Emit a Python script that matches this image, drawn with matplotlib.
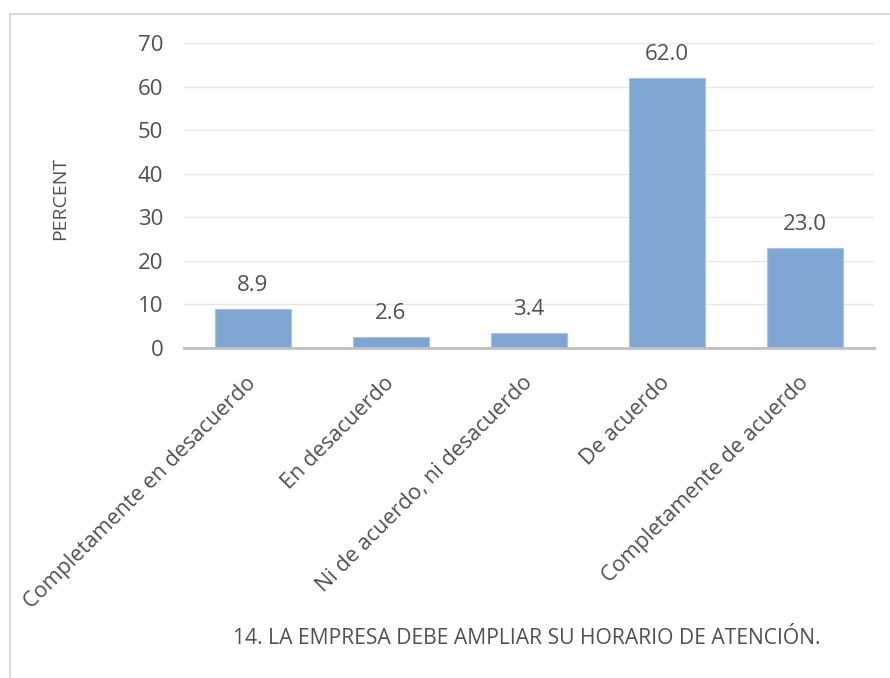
import matplotlib
matplotlib.use("Agg")
import matplotlib.pyplot as plt
from matplotlib.patches import Rectangle

# survey answers, percent of respondents
categories = ["Completamente en desacuerdo", "En desacuerdo",
              "Ni de acuerdo, ni desacuerdo", "De acuerdo",
              "Completamente de acuerdo"]
percent = [8.9, 2.6, 3.4, 62.0, 23.0]
yticks = [0, 10, 20, 30, 40, 50, 60, 70]
title = "14. LA EMPRESA DEBE AMPLIAR SU HORARIO DE ATENCIÓN."

plt.rcParams['font.family'] = ['Open Sans', 'DejaVu Sans']
txt = '#505050'

fig = plt.figure(figsize=(8.9, 6.78), dpi=100)
# light frame round the chart
fig.patches.append(Rectangle((10 / 890, -0.01), 0.99, 1 - 14 / 678 + 0.01,
                             transform=fig.transFigure, fill=False,
                             edgecolor='#D9D9D9', linewidth=1.5))

ax = fig.add_axes([184 / 890, 1 - 348 / 678, 690 / 890, 305 / 678])
x = range(len(categories))
bars = ax.bar(x, percent, width=0.55, color='#7FA6D2', edgecolor='#A9C4E3',
              linewidth=0.8, zorder=3)
for b, v in zip(bars, percent):
    ax.text(b.get_x() + b.get_width() / 2, v + 5.4, "%.1f" % v,
            ha='center', va='center', fontsize=16, color=txt)

ax.set_xlim(-0.5, len(categories) - 0.5)
ax.set_ylim(0, 70)
ax.set_yticks(yticks)
ax.set_yticklabels([str(t) for t in yticks], fontsize=16, color=txt)
ax.set_xticks(list(x))
ax.set_xticklabels(categories, rotation=45, ha='right', va='center',
                   rotation_mode='anchor', fontsize=15.6, color=txt)
ax.tick_params(axis='both', length=0)
ax.tick_params(axis='y', pad=15)
ax.tick_params(axis='x', pad=23)
ax.grid(axis='y', color='#E6E6E6', linewidth=1, zorder=0)
for s in ['top', 'right', 'left']:
    ax.spines[s].set_visible(False)
ax.spines['bottom'].set_color('#BFBFBF')
ax.spines['bottom'].set_linewidth(2)
ax.spines['bottom'].set_zorder(4)

fig.text(60 / 890, 1 - 198 / 678, "PERCENT", rotation=90, ha='center',
         va='center', fontsize=14, color=txt)
fig.text(527 / 890, 1 - 639 / 678, title, ha='center', va='center',
         fontsize=15.2, color=txt)

plt.savefig("out.png", dpi=100)
